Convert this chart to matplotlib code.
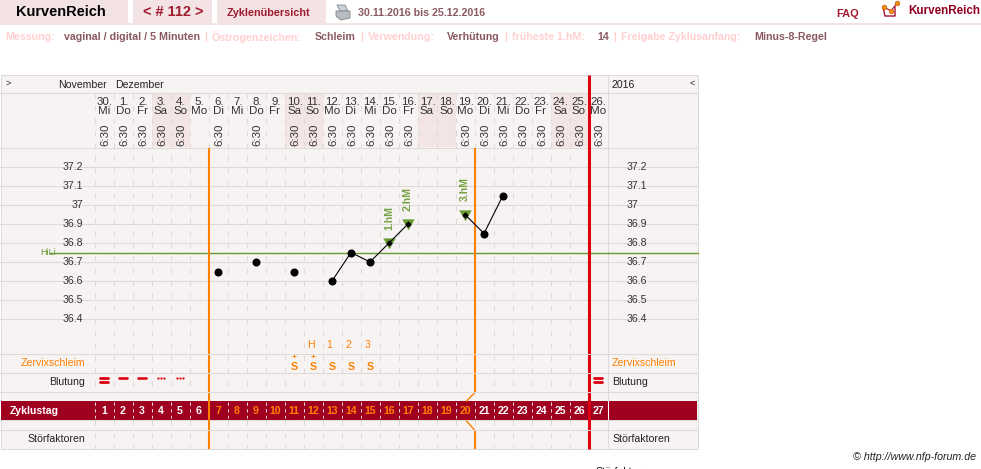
import matplotlib
matplotlib.use("Agg")
import matplotlib.pyplot as plt
from matplotlib.patches import Rectangle, Polygon
from matplotlib.path import Path
from matplotlib.transforms import blended_transform_factory as blend

# ---------- data ----------
cycle_days = list(range(1, 28))
dates = [30] + list(range(1, 27))
weekdays = (["Mi", "Do", "Fr", "Sa", "So", "Mo", "Di"] * 4)[:27]
time_days = [1, 2, 3, 4, 5, 7, 9, 11, 12, 13, 14, 15, 16, 17, 20, 21, 22, 23, 24, 25, 26, 27]
weekend_days = [4, 5, 11, 12, 18, 19, 25, 26]
segments_days = [[7], [9], [11], [13, 14, 15, 16, 17], [20, 21, 22]]
segments_temps = [[36.65], [36.7], [36.65], [36.6, 36.75, 36.7, 36.8, 36.9], [36.95, 36.85, 37.05]]
hm_days = [16, 17, 20]
hm_temps = [36.8, 36.9, 36.95]
hm_labels = ["1.hM", "2.hM", "3.hM"]
temp_ticks = [36.4, 36.5, 36.6, 36.7, 36.8, 36.9, 37.0, 37.1, 37.2]
temp_labels = ["36.4", "36.5", "36.6", "36.7", "36.8", "36.9", "37", "37.1", "37.2"]
hili = 36.75
peak_days = [12, 13, 14, 15]
peak_labels = ["H", "1", "2", "3"]
mucus_days = [11, 12, 13, 14, 15]
mucus_plus = [11, 12]
bleed_double = [1, 27]
bleed_single = [2, 3]
bleed_dots = [4, 5]
orange_day_range = range(7, 21)

W, H = 981, 469
BG = "#f8f3f3"; GRID = "#dddada"; PINK = "#f3e3e5"; MAROON = "#a00020"
ORANGE = "#ff8000"; RED = "#dc0010"; LABEL = "#ffd0d0"; VAL = "#8a5a62"; DARK = "#a01c30"; GREEN = "#669a30"
SANS = ["Liberation Sans", "DejaVu Sans"]
NARROW = ["Liberation Sans Narrow", "Liberation Sans", "DejaVu Sans"]
plt.rcParams["font.family"] = SANS
px = 0.72  # points per pixel at dpi 100
LW = 0.75  # one pixel
DASH = (0, (5, 7))

fig = plt.figure(figsize=(W / 100, H / 100), dpi=100, facecolor="white")
ov = fig.add_axes([0, 0, 1, 1]); ov.set_xlim(0, W); ov.set_ylim(H, 0); ov.axis("off")

# plot panel in real scales: days on x, temperature on y
L, R, T, B = 94.5, 607.5, 148, 354
m = fig.add_axes([L / W, 1 - B / H, (R - L) / W, (B - T) / H], facecolor="none")
m.set_xlim(0.5, 27.5)
m.set_ylim(37.2 - (B - 167) / 190.0, 37.2 + (167 - T) / 190.0)
m.axis("off")
bx = blend(m.transData, ov.transData)   # x: cycle day, y: pixel row
by = blend(ov.transData, m.transData)   # x: pixel, y: temperature

# ---------- top bar ----------
for x0, x1 in [(0, 128), (133, 212), (217, 326)]:
    ov.add_patch(Rectangle((x0, 0), x1 - x0, 23, fc=PINK, ec="none"))
ov.add_patch(Rectangle((0, 23), W, 2, fc=PINK, ec="none"))
ov.text(16, 12.5, "KurvenReich", fontsize=14.5 * px, weight="bold", color="black", va="center")
ov.text(143, 12.5, "< # 112 >", fontsize=14.5 * px, weight="bold", color=DARK, va="center")
ov.text(227, 12.5, "Zyklenübersicht", fontsize=10.9 * px, weight="bold", color=DARK, va="center")
ov.text(358.5, 12.5, "30.11.2016 bis 25.12.2016", fontsize=10.6 * px, weight="bold", color=VAL, va="center")
ov.text(836, 14, "FAQ", fontsize=11 * px, weight="bold", color=DARK, va="center")
ov.text(908, 10.5, "KurvenReich", fontsize=11.6 * px, weight="bold", color="#900020", va="center")
# printer icon
ov.add_patch(Polygon([(337, 5), (345, 5), (348, 11), (340, 11)], fc="#c8d4dc", ec="#7a8a94", lw=0.6))
ov.add_patch(Polygon([(336, 11), (350, 11), (350, 18), (341, 20), (336, 16)], fc="#b8bcc0", ec="#808488", lw=0.6))
# logo icon
ov.plot([883, 885, 895, 895], [7, 16, 16, 7], color="#a01030", lw=1.0)
ov.plot([884, 891, 897], [7, 11, 3], color="#a01030", lw=0.8)
ov.plot([884, 891, 897], [7, 11, 3], ls="", marker="o", ms=3.4, mfc="#f09010", mec="#c05010", mew=0.4)

info = [(5, "Messung:", LABEL), (64, "vaginal / digital / 5 Minuten", VAL), (204, "|", LABEL),
        (212, "Östrogenzeichen:", LABEL), (315, "Schleim", VAL), (360, "|", LABEL),
        (368, "Verwendung:", LABEL), (447, "Verhütung", VAL), (504, "|", LABEL),
        (512, "früheste 1.hM:", LABEL), (597, "14", VAL), (613, "|", LABEL),
        (621, "Freigabe Zyklusanfang:", LABEL), (754, "Minus-8-Regel", VAL)]
for x, s, c in info:
    ov.text(x, 36, s, fontsize=10.6 * px, weight="bold", color=c, va="center_baseline")

# ---------- chart frame ----------
ov.add_patch(Rectangle((0.5, 75.5), 697, 373.5, fc=BG, ec=GRID, lw=LW, zorder=0))
for d in weekend_days:
    ov.fill_between([d - 0.5, d + 0.5], 93.5, 147.5, transform=bx, fc="#f3e4e6", ec="none", zorder=0.5)
for y in [93.5, 148]:
    ov.plot([0, 697.5], [y, y], color=GRID, lw=LW, zorder=1)
for y in [354, 373, 392, 430]:
    ov.plot([0, 697.5], [y, y], color=GRID, lw=LW, zorder=3.8)   # rows break the vertical markers
ov.plot([0, 697.5], [420.5, 420.5], color=GRID, lw=LW, zorder=1)
ov.plot([607.5, 607.5], [75.5, 449], color=GRID, lw=LW, zorder=1)

# vertical dashed day separators
for d in range(0, 27):
    ov.plot([d + 0.5] * 2, [93.5, 392], transform=bx, color=GRID, lw=LW, ls=DASH, zorder=1)
    ov.plot([d + 0.5] * 2, [420.5, 449], transform=bx, color=GRID, lw=LW, ls=DASH, zorder=1)

# ---------- header text ----------
ov.text(5, 83, ">", fontsize=9 * px, va="center", color="#222222")
ov.text(58, 85, "November", fontsize=10.5 * px, va="center", color="#222222")
ov.text(115, 85, "Dezember", fontsize=10.5 * px, va="center", color="#222222")
ov.text(612, 85, "2016", fontsize=10.5 * px, va="center", color="#222222")
ov.text(690, 83, "<", fontsize=9 * px, va="center", color="#222222")
for d, dt, wd in zip(cycle_days, dates, weekdays):
    ov.text(d + 0.04, 102, f"{dt}.", transform=bx, ha="center", va="center", fontsize=11.5 * px, family=NARROW, color="#333333")
    ov.text(d, 111.5, wd, transform=bx, ha="center", va="center", fontsize=11.5 * px, family=NARROW, color="#333333")
for d in time_days:
    ov.text(d + 0.07, 134.5, "6:30", transform=bx, ha="center", va="center", rotation=90, fontsize=11.5 * px, family=NARROW, color="#333333")

# ---------- temperature panel ----------
for t, s in zip(temp_ticks, temp_labels):
    ov.plot([0, 697.5], [t, t], transform=by, color=GRID, lw=LW, zorder=1)
    ov.text(83, t, s, transform=by, ha="right", va="center", fontsize=10.5 * px, color="#333333", zorder=3)
    ov.text(627, t, s, transform=by, ha="left", va="center", fontsize=10.5 * px, color="#333333", zorder=3)
ov.plot([50, 697.5], [hili, hili], transform=by, color=GREEN, lw=1.0, zorder=2.5)
ov.text(40, hili, "HiLi", transform=by, ha="left", va="center", fontsize=9 * px, color=GREEN)

tri = Path([(-6, 5), (6, 5), (0, -5.5), (-6, 5)])
m.plot(hm_days, hm_temps, ls="", marker=tri, ms=8.6, mfc=GREEN, mec=GREEN, mew=0.2, zorder=4)
for ds, ts in zip(segments_days, segments_temps):
    m.plot(ds, ts, color="black", lw=0.8, zorder=5)
    m.plot([d for d in ds if d not in hm_days], [t for d, t in zip(ds, ts) if d not in hm_days],
           ls="", marker="o", ms=4.8, color="black", zorder=6)
m.plot(hm_days, hm_temps, ls="", marker="D", ms=2.4, color="black", zorder=6)
for d, t, s in zip(hm_days, hm_temps, hm_labels):
    m.annotate(s, (d, t), xytext=(0, 9.5), textcoords="offset points", rotation=90, ha="center", va="bottom",
               fontsize=10.5 * px, weight="bold", color=GREEN, alpha=0.9, zorder=6)

# ---------- rows ----------
for d, s in zip(peak_days, peak_labels):
    ov.text(d - 0.13, 345, s, transform=bx, ha="center", va="center", fontsize=10.5 * px, color=ORANGE, zorder=3)
for d in mucus_days:
    ov.text(d, 367, "S", transform=bx, ha="center", va="center", fontsize=10.5 * px, weight="bold", color=ORANGE, zorder=3)
for d in mucus_plus:
    ov.text(d, 357.5, "+", transform=bx, ha="center", va="center", fontsize=8.5 * px, weight="bold", color=ORANGE, zorder=3)
ov.text(85, 363.5, "Zervixschleim", ha="right", va="center", fontsize=10.5 * px, color=ORANGE)
ov.text(612, 363.5, "Zervixschleim", ha="left", va="center", fontsize=10.5 * px, color=ORANGE)
ov.text(85, 382, "Blutung", ha="right", va="center", fontsize=10.5 * px, color="#222222")
ov.text(612, 382, "Blutung", ha="left", va="center", fontsize=10.5 * px, color="#222222")
ov.text(85, 439, "Störfaktoren", ha="right", va="center", fontsize=10.5 * px, color="#222222")
ov.text(612, 439, "Störfaktoren", ha="left", va="center", fontsize=10.5 * px, color="#222222")

for d in bleed_double:
    for y in (378, 382.3):
        ov.plot([d - 0.22, d + 0.22], [y, y], transform=bx, color=RED, lw=2, solid_capstyle="round", zorder=4)
for d in bleed_single:
    ov.plot([d - 0.22, d + 0.22], [378.3, 378.3], transform=bx, color=RED, lw=1.9, solid_capstyle="round", zorder=4)
for d in bleed_dots:
    ov.plot([d - 0.18, d, d + 0.18], [378.5] * 3, transform=bx, ls="", marker="o", ms=1.6, mew=0, color=RED, zorder=4)

# band
ov.add_patch(Rectangle((1, 401), 696, 19.5, fc=MAROON, ec="none", zorder=2))
ov.plot([607.5, 607.5], [401, 420.5], color="white", lw=LW, zorder=3)
ov.text(10, 411, "Zyklustag", fontsize=10.5 * px, weight="bold", color="white", va="center", zorder=4)
for d in range(0, 27):
    ov.plot([d + 0.5] * 2, [402, 418], transform=bx, color="white", lw=0.6, ls=(0, (4, 4)), zorder=3)
for d in cycle_days:
    c = ORANGE if d in orange_day_range else "white"
    ov.text(d, 411, str(d), transform=bx, ha="center", va="center", fontsize=10.5 * px, weight="bold", color=c, zorder=4)

# cycle phase markers (day boundaries)
ov.plot([6.5, 6.5], [148, 449], transform=bx, color=ORANGE, lw=1.5, zorder=3.5, solid_capstyle="butt")
ov.plot([20.5, 20.5], [148, 392], transform=bx, color=ORANGE, lw=1.5, zorder=3.5, solid_capstyle="butt")
ov.plot([20.5, 20.08], [393, 401], transform=bx, color=ORANGE, lw=1.0, zorder=3.5)
ov.plot([20.08, 20.5], [421, 430], transform=bx, color=ORANGE, lw=1.0, zorder=3.5)
ov.plot([20.5, 20.5], [431, 449], transform=bx, color=ORANGE, lw=1.5, zorder=3.5, solid_capstyle="butt")
ov.plot([26.5, 26.5], [75.5, 449], transform=bx, color=RED, lw=2.2, zorder=3.6, solid_capstyle="butt")

# footer
ov.text(976, 457.5, "© http://www.nfp-forum.de", ha="right", va="center", fontsize=10.6 * px, style="italic", color="#222222")
ov.text(595, 472, "Störfaktoren", ha="left", va="center", fontsize=10.5 * px, color="#111111")

fig.savefig("out.png", dpi=100, facecolor="white")
